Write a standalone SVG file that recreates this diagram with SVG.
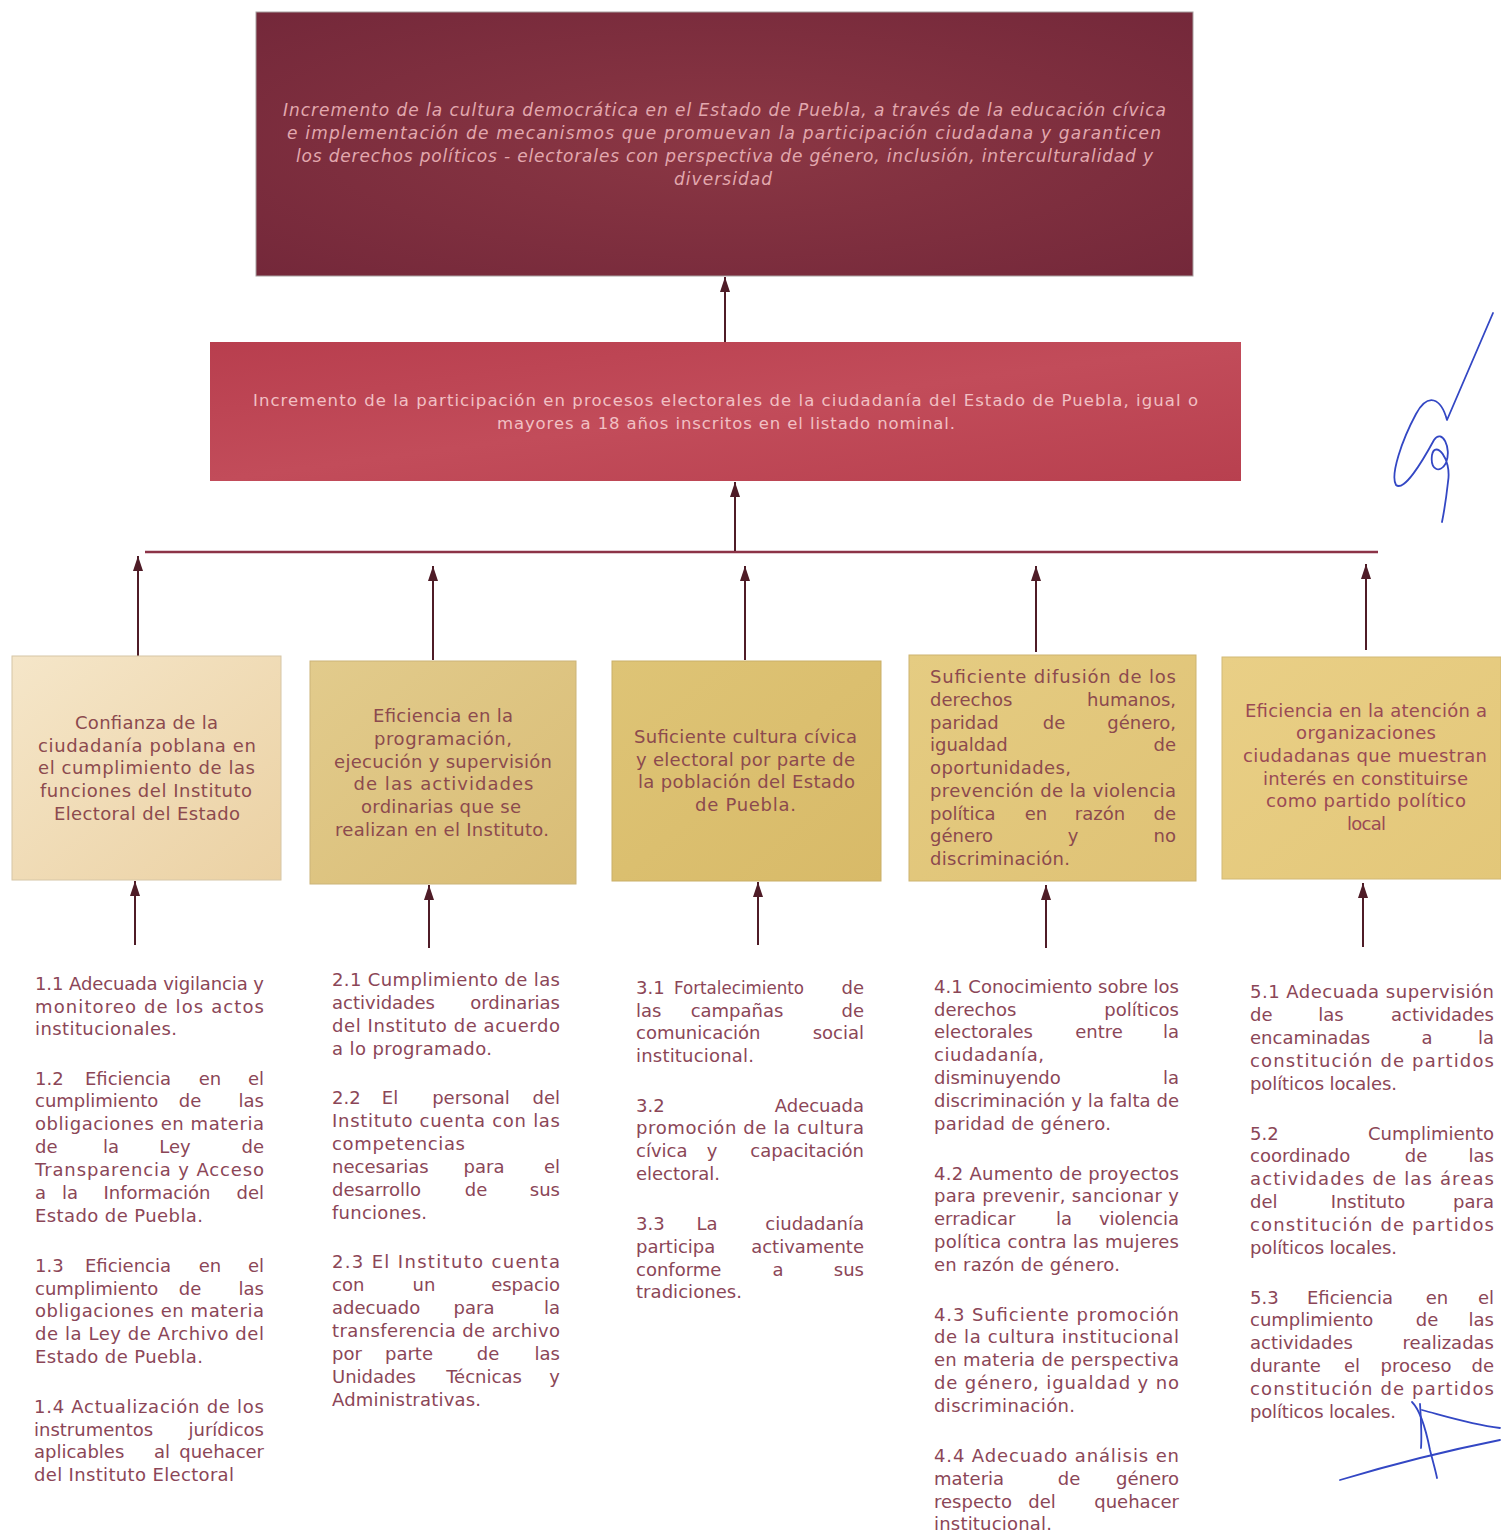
<svg xmlns="http://www.w3.org/2000/svg" width="1501" height="1534" viewBox="0 0 1501 1534">
<style>
.t{font-family:"DejaVu Sans","Open Sans",sans-serif;font-size:18px;fill:#8b4657}
.b{font-family:"DejaVu Sans","Open Sans",sans-serif;font-size:18px;fill:#8c4a4e}
.bc{text-anchor:middle}
.h1{font-family:"DejaVu Sans","Open Sans",sans-serif;font-size:17px;font-style:italic;fill:#e2a8ae;text-anchor:middle}
.h2{font-family:"DejaVu Sans","Open Sans",sans-serif;font-size:16.5px;fill:#f1c0c4;text-anchor:middle}
.m{text-anchor:middle}
.e{text-anchor:end}
.s{text-anchor:start}
.con{stroke:#4f1c27;stroke-width:2;fill:none;marker-end:url(#ah)}
.sig{stroke:#3347c4;stroke-width:1.8;fill:none;stroke-linecap:round;stroke-linejoin:round}
</style>
<defs>
<marker id="ah" markerUnits="userSpaceOnUse" markerWidth="15" markerHeight="10" viewBox="0 0 15 10" refX="15" refY="5" orient="auto">
<path d="M0,0 L15,5 L0,10 z" fill="#4f1c27"/>
</marker>
<radialGradient id="gTop" cx="0.5" cy="0.5" r="0.7">
<stop offset="0" stop-color="#8b3744"/><stop offset="1" stop-color="#74283a"/>
</radialGradient>
<linearGradient id="gMid" x1="0" y1="0" x2="1" y2="1">
<stop offset="0" stop-color="#b83e4e"/><stop offset="0.5" stop-color="#c24c5a"/><stop offset="1" stop-color="#b8404f"/>
</linearGradient>
<linearGradient id="g1" x1="0" y1="0" x2="1" y2="1"><stop offset="0" stop-color="#f5e6c9"/><stop offset="1" stop-color="#ebd1a3"/></linearGradient>
<linearGradient id="g2" x1="0" y1="0" x2="1" y2="1"><stop offset="0" stop-color="#e2cb8c"/><stop offset="1" stop-color="#d9bd76"/></linearGradient>
<linearGradient id="g3" x1="0" y1="0" x2="1" y2="1"><stop offset="0" stop-color="#dec476"/><stop offset="1" stop-color="#d8ba68"/></linearGradient>
<linearGradient id="g4" x1="0" y1="0" x2="1" y2="1"><stop offset="0" stop-color="#e5cc82"/><stop offset="1" stop-color="#dfc275"/></linearGradient>
<linearGradient id="g5" x1="0" y1="0" x2="1" y2="1"><stop offset="0" stop-color="#e9cf86"/><stop offset="1" stop-color="#e3c779"/></linearGradient>
</defs>
<rect width="1501" height="1534" fill="#ffffff"/>

<g id="fin">
<rect x="256" y="12" width="937" height="264" fill="url(#gTop)" stroke="#a8a0a0" stroke-width="1"/>
<text class="h1" x="724.5" y="116" textLength="883" lengthAdjust="spacing">Incremento de la cultura democrática en el Estado de Puebla, a través de la educación cívica</text>
<text class="h1" x="724" y="139" textLength="874" lengthAdjust="spacing">e implementación de mecanismos que promuevan la participación ciudadana y garanticen</text>
<text class="h1" x="724.5" y="162" textLength="857" lengthAdjust="spacing">los derechos políticos - electorales con perspectiva de género, inclusión, interculturalidad y</text>
<text class="h1" x="723" y="185" textLength="98" lengthAdjust="spacing">diversidad</text>
</g>

<g id="proposito">
<rect x="210" y="342" width="1031" height="139" fill="url(#gMid)"/>
<text class="h2" x="725.5" y="406" textLength="945" lengthAdjust="spacing">Incremento de la participación en procesos electorales de la ciudadanía del Estado de Puebla, igual o</text>
<text class="h2" x="726" y="429" textLength="458" lengthAdjust="spacing">mayores a 18 años inscritos en el listado nominal.</text>
</g>

<g id="connectors">
<line x1="145" y1="552" x2="1378" y2="552" stroke="#8c3347" stroke-width="2.5"/>
<line class="con" x1="725" y1="342" x2="725" y2="277"/>
<line class="con" x1="735" y1="551" x2="735" y2="482"/>
<line class="con" x1="138" y1="656" x2="138" y2="556"/>
<line class="con" x1="433" y1="660" x2="433" y2="566"/>
<line class="con" x1="745" y1="660" x2="745" y2="566"/>
<line class="con" x1="1036" y1="652" x2="1036" y2="566"/>
<line class="con" x1="1366" y1="650" x2="1366" y2="564"/>
<line class="con" x1="135" y1="945" x2="135" y2="881"/>
<line class="con" x1="429" y1="948" x2="429" y2="885"/>
<line class="con" x1="758" y1="945" x2="758" y2="882"/>
<line class="con" x1="1046" y1="948" x2="1046" y2="885"/>
<line class="con" x1="1363" y1="947" x2="1363" y2="883"/>
</g>

<g id="comp1">
<rect x="12" y="656" width="269" height="224" fill="url(#g1)" stroke="#d6c6a6" stroke-width="1"/>
<text class="b bc" x="146.5" y="729" textLength="143" lengthAdjust="spacing">Confianza de la</text>
<text class="b bc" x="147" y="752" textLength="218" lengthAdjust="spacing">ciudadanía poblana en</text>
<text class="b bc" x="146.5" y="774" textLength="217" lengthAdjust="spacing">el cumplimiento de las</text>
<text class="b bc" x="146" y="797" textLength="212" lengthAdjust="spacing">funciones del Instituto</text>
<text class="b bc" x="147" y="820" textLength="186" lengthAdjust="spacing">Electoral del Estado</text>
</g>

<g id="comp2">
<rect x="310" y="661" width="266" height="223" fill="url(#g2)" stroke="#cbb478" stroke-width="1"/>
<text class="b bc" x="443" y="722" textLength="140" lengthAdjust="spacing">Eficiencia en la</text>
<text class="b bc" x="443" y="745" textLength="138" lengthAdjust="spacing">programación,</text>
<text class="b bc" x="443" y="768" textLength="218" lengthAdjust="spacing">ejecución y supervisión</text>
<text class="b bc" x="443.5" y="790" textLength="180" lengthAdjust="spacing">de las actividades</text>
<text class="b bc" x="441" y="813" textLength="160" lengthAdjust="spacing">ordinarias que se</text>
<text class="b bc" x="442" y="836" textLength="214" lengthAdjust="spacing">realizan en el Instituto.</text>
</g>

<g id="comp3">
<rect x="612" y="661" width="269" height="220" fill="url(#g3)" stroke="#c9af68" stroke-width="1"/>
<text class="b bc" x="745.5" y="743" textLength="223" lengthAdjust="spacing">Suficiente cultura cívica</text>
<text class="b bc" x="745.5" y="766" textLength="219" lengthAdjust="spacing">y electoral por parte de</text>
<text class="b bc" x="746.5" y="788" textLength="217" lengthAdjust="spacing">la población del Estado</text>
<text class="b bc" x="745.5" y="811" textLength="101" lengthAdjust="spacing">de Puebla.</text>
</g>

<g id="comp4">
<rect x="909" y="655" width="287" height="226" fill="url(#g4)" stroke="#cdb470" stroke-width="1"/>
<text class="b" x="930" y="683" textLength="246" lengthAdjust="spacing">Suficiente difusión de los</text>
<text class="b" y="706"><tspan class="s" x="930">derechos</tspan><tspan class="e" x="1176">humanos,</tspan></text>
<text class="b" y="729"><tspan class="s" x="930">paridad</tspan><tspan class="m" x="1054">de</tspan><tspan class="e" x="1176">género,</tspan></text>
<text class="b" y="751"><tspan class="s" x="930">igualdad</tspan><tspan class="e" x="1176">de</tspan></text>
<text class="b" x="930" y="774" textLength="141" lengthAdjust="spacing">oportunidades,</text>
<text class="b" x="930" y="797" textLength="246" lengthAdjust="spacing">prevención de la violencia</text>
<text class="b" y="820"><tspan class="s" x="930">política</tspan><tspan class="m" x="1036">en</tspan><tspan class="m" x="1100">razón</tspan><tspan class="e" x="1176">de</tspan></text>
<text class="b" y="842"><tspan class="s" x="930">género</tspan><tspan class="m" x="1073">y</tspan><tspan class="e" x="1176">no</tspan></text>
<text class="b" x="930" y="865" textLength="140" lengthAdjust="spacing">discriminación.</text>
</g>

<g id="comp5">
<rect x="1222" y="657" width="279" height="222" fill="url(#g5)" stroke="#d2b977" stroke-width="1"/>
<text class="b bc" x="1366" y="717" textLength="242" lengthAdjust="spacing" style="fill:#9a4a55">Eficiencia en la atención a</text>
<text class="b bc" x="1366" y="739" textLength="140" lengthAdjust="spacing" style="fill:#9a4a55">organizaciones</text>
<text class="b bc" x="1365" y="762" textLength="244" lengthAdjust="spacing" style="fill:#9a4a55">ciudadanas que muestran</text>
<text class="b bc" x="1365.5" y="785" textLength="205" lengthAdjust="spacing" style="fill:#9a4a55">interés en constituirse</text>
<text class="b bc" x="1366" y="807" textLength="200" lengthAdjust="spacing" style="fill:#9a4a55">como partido político</text>
<text class="b bc" x="1366.5" y="830" textLength="39" lengthAdjust="spacing" style="fill:#9a4a55">local</text>
</g>

<g id="act1">
<text class="t" x="35" y="990" textLength="229" lengthAdjust="spacing">1.1 Adecuada vigilancia y</text>
<text class="t" x="35" y="1013" textLength="229" lengthAdjust="spacing">monitoreo de los actos</text>
<text class="t" x="35" y="1035" textLength="142" lengthAdjust="spacing">institucionales.</text>
<text class="t" y="1085"><tspan class="s" x="35">1.2</tspan><tspan class="m" x="128">Eficiencia</tspan><tspan class="m" x="210">en</tspan><tspan class="e" x="264">el</tspan></text>
<text class="t" y="1107"><tspan class="s" x="35">cumplimiento</tspan><tspan class="m" x="190">de</tspan><tspan class="e" x="264">las</tspan></text>
<text class="t" x="35" y="1130" textLength="229" lengthAdjust="spacing">obligaciones en materia</text>
<text class="t" y="1153"><tspan class="s" x="35">de</tspan><tspan class="m" x="111">la</tspan><tspan class="m" x="175">Ley</tspan><tspan class="e" x="264">de</tspan></text>
<text class="t" x="35" y="1176" textLength="229" lengthAdjust="spacing">Transparencia y Acceso</text>
<text class="t" y="1199"><tspan class="s" x="35">a</tspan><tspan class="m" x="70">la</tspan><tspan class="m" x="157">Información</tspan><tspan class="e" x="264">del</tspan></text>
<text class="t" x="35" y="1222" textLength="168" lengthAdjust="spacing">Estado de Puebla.</text>
<text class="t" y="1272"><tspan class="s" x="35">1.3</tspan><tspan class="m" x="128">Eficiencia</tspan><tspan class="m" x="210">en</tspan><tspan class="e" x="264">el</tspan></text>
<text class="t" y="1295"><tspan class="s" x="35">cumplimiento</tspan><tspan class="m" x="190">de</tspan><tspan class="e" x="264">las</tspan></text>
<text class="t" x="35" y="1317" textLength="229" lengthAdjust="spacing">obligaciones en materia</text>
<text class="t" x="35" y="1340" textLength="229" lengthAdjust="spacing">de la Ley de Archivo del</text>
<text class="t" x="35" y="1363" textLength="168" lengthAdjust="spacing">Estado de Puebla.</text>
<text class="t" x="34" y="1413" textLength="230" lengthAdjust="spacing">1.4 Actualización de los</text>
<text class="t" y="1436"><tspan class="s" x="34">instrumentos</tspan><tspan class="e" x="264">jurídicos</tspan></text>
<text class="t" y="1458"><tspan class="s" x="34">aplicables</tspan><tspan class="m" x="162">al</tspan><tspan class="e" x="264">quehacer</tspan></text>
<text class="t" x="34" y="1481" textLength="200" lengthAdjust="spacing">del Instituto Electoral</text>
</g>

<g id="act2">
<text class="t" x="332" y="986" textLength="228" lengthAdjust="spacing">2.1 Cumplimiento de las</text>
<text class="t" y="1009"><tspan class="s" x="332">actividades</tspan><tspan class="e" x="560">ordinarias</tspan></text>
<text class="t" x="332" y="1032" textLength="228" lengthAdjust="spacing">del Instituto de acuerdo</text>
<text class="t" x="332" y="1055" textLength="160" lengthAdjust="spacing">a lo programado.</text>
<text class="t" y="1104"><tspan class="s" x="332">2.2</tspan><tspan class="m" x="390">El</tspan><tspan class="m" x="471">personal</tspan><tspan class="e" x="560">del</tspan></text>
<text class="t" x="332" y="1127" textLength="228" lengthAdjust="spacing">Instituto cuenta con las</text>
<text class="t" x="332" y="1150" textLength="133" lengthAdjust="spacing">competencias</text>
<text class="t" y="1173"><tspan class="s" x="332">necesarias</tspan><tspan class="m" x="484">para</tspan><tspan class="e" x="560">el</tspan></text>
<text class="t" y="1196"><tspan class="s" x="332">desarrollo</tspan><tspan class="m" x="476">de</tspan><tspan class="e" x="560">sus</tspan></text>
<text class="t" x="332" y="1219" textLength="95" lengthAdjust="spacing">funciones.</text>
<text class="t" x="332" y="1268" textLength="228" lengthAdjust="spacing">2.3 El Instituto cuenta</text>
<text class="t" y="1291"><tspan class="s" x="332">con</tspan><tspan class="m" x="424">un</tspan><tspan class="e" x="560">espacio</tspan></text>
<text class="t" y="1314"><tspan class="s" x="332">adecuado</tspan><tspan class="m" x="474">para</tspan><tspan class="e" x="560">la</tspan></text>
<text class="t" x="332" y="1337" textLength="228" lengthAdjust="spacing">transferencia de archivo</text>
<text class="t" y="1360"><tspan class="s" x="332">por</tspan><tspan class="m" x="409">parte</tspan><tspan class="m" x="488">de</tspan><tspan class="e" x="560">las</tspan></text>
<text class="t" y="1383"><tspan class="s" x="332">Unidades</tspan><tspan class="m" x="484">Técnicas</tspan><tspan class="e" x="560">y</tspan></text>
<text class="t" x="332" y="1406" textLength="149" lengthAdjust="spacing">Administrativas.</text>
</g>

<g id="act3">
<text class="t" y="994"><tspan class="s" x="636">3.1</tspan><tspan class="m" x="739" textLength="130" lengthAdjust="spacingAndGlyphs">Fortalecimiento</tspan><tspan class="e" x="864">de</tspan></text>
<text class="t" y="1017"><tspan class="s" x="636">las</tspan><tspan class="m" x="737">campañas</tspan><tspan class="e" x="864">de</tspan></text>
<text class="t" y="1039"><tspan class="s" x="636">comunicación</tspan><tspan class="e" x="864">social</tspan></text>
<text class="t" x="636" y="1062" textLength="118" lengthAdjust="spacing">institucional.</text>
<text class="t" y="1112"><tspan class="s" x="636">3.2</tspan><tspan class="e" x="864">Adecuada</tspan></text>
<text class="t" x="636" y="1134" textLength="228" lengthAdjust="spacing">promoción de la cultura</text>
<text class="t" y="1157"><tspan class="s" x="636">cívica</tspan><tspan class="m" x="712">y</tspan><tspan class="e" x="864">capacitación</tspan></text>
<text class="t" x="636" y="1180" textLength="84" lengthAdjust="spacing">electoral.</text>
<text class="t" y="1230"><tspan class="s" x="636">3.3</tspan><tspan class="m" x="707">La</tspan><tspan class="e" x="864">ciudadanía</tspan></text>
<text class="t" y="1253"><tspan class="s" x="636">participa</tspan><tspan class="e" x="864">activamente</tspan></text>
<text class="t" y="1276"><tspan class="s" x="636">conforme</tspan><tspan class="m" x="778">a</tspan><tspan class="e" x="864">sus</tspan></text>
<text class="t" x="636" y="1298" textLength="106" lengthAdjust="spacing">tradiciones.</text>
</g>

<g id="act4">
<text class="t" x="934" y="993" textLength="245" lengthAdjust="spacing">4.1 Conocimiento sobre los</text>
<text class="t" y="1016"><tspan class="s" x="934">derechos</tspan><tspan class="e" x="1179">políticos</tspan></text>
<text class="t" y="1038"><tspan class="s" x="934">electorales</tspan><tspan class="m" x="1099">entre</tspan><tspan class="e" x="1179">la</tspan></text>
<text class="t" x="934" y="1061" textLength="110" lengthAdjust="spacing">ciudadanía,</text>
<text class="t" y="1084"><tspan class="s" x="934">disminuyendo</tspan><tspan class="e" x="1179">la</tspan></text>
<text class="t" x="934" y="1107" textLength="245" lengthAdjust="spacing">discriminación y la falta de</text>
<text class="t" x="934" y="1130" textLength="177" lengthAdjust="spacing">paridad de género.</text>
<text class="t" x="934" y="1180" textLength="245" lengthAdjust="spacing">4.2 Aumento de proyectos</text>
<text class="t" x="934" y="1202" textLength="245" lengthAdjust="spacing">para prevenir, sancionar y</text>
<text class="t" y="1225"><tspan class="s" x="934">erradicar</tspan><tspan class="m" x="1064">la</tspan><tspan class="e" x="1179">violencia</tspan></text>
<text class="t" x="934" y="1248" textLength="245" lengthAdjust="spacing">política contra las mujeres</text>
<text class="t" x="934" y="1271" textLength="186" lengthAdjust="spacing">en razón de género.</text>
<text class="t" x="934" y="1321" textLength="245" lengthAdjust="spacing">4.3 Suficiente promoción</text>
<text class="t" x="934" y="1343" textLength="245" lengthAdjust="spacing">de la cultura institucional</text>
<text class="t" x="934" y="1366" textLength="245" lengthAdjust="spacing">en materia de perspectiva</text>
<text class="t" x="934" y="1389" textLength="245" lengthAdjust="spacing">de género, igualdad y no</text>
<text class="t" x="934" y="1412" textLength="141" lengthAdjust="spacing">discriminación.</text>
<text class="t" x="934" y="1462" textLength="245" lengthAdjust="spacing">4.4 Adecuado análisis en</text>
<text class="t" y="1485"><tspan class="s" x="934">materia</tspan><tspan class="m" x="1069">de</tspan><tspan class="e" x="1179">género</tspan></text>
<text class="t" y="1508"><tspan class="s" x="934">respecto</tspan><tspan class="m" x="1042">del</tspan><tspan class="e" x="1179">quehacer</tspan></text>
<text class="t" x="934" y="1530" textLength="118" lengthAdjust="spacing">institucional.</text>
</g>

<g id="act5">
<text class="t" x="1250" y="998" textLength="244" lengthAdjust="spacing">5.1 Adecuada supervisión</text>
<text class="t" y="1021"><tspan class="s" x="1250">de</tspan><tspan class="m" x="1331">las</tspan><tspan class="e" x="1494">actividades</tspan></text>
<text class="t" y="1044"><tspan class="s" x="1250">encaminadas</tspan><tspan class="m" x="1427">a</tspan><tspan class="e" x="1494">la</tspan></text>
<text class="t" x="1250" y="1067" textLength="244" lengthAdjust="spacing">constitución de partidos</text>
<text class="t" x="1250" y="1090" textLength="147" lengthAdjust="spacing">políticos locales.</text>
<text class="t" y="1140"><tspan class="s" x="1250">5.2</tspan><tspan class="e" x="1494">Cumplimiento</tspan></text>
<text class="t" y="1162"><tspan class="s" x="1250">coordinado</tspan><tspan class="m" x="1416">de</tspan><tspan class="e" x="1494">las</tspan></text>
<text class="t" x="1250" y="1185" textLength="244" lengthAdjust="spacing">actividades de las áreas</text>
<text class="t" y="1208"><tspan class="s" x="1250">del</tspan><tspan class="m" x="1368">Instituto</tspan><tspan class="e" x="1494">para</tspan></text>
<text class="t" x="1250" y="1231" textLength="244" lengthAdjust="spacing">constitución de partidos</text>
<text class="t" x="1250" y="1254" textLength="147" lengthAdjust="spacing">políticos locales.</text>
<text class="t" y="1304"><tspan class="s" x="1250">5.3</tspan><tspan class="m" x="1350">Eficiencia</tspan><tspan class="m" x="1437">en</tspan><tspan class="e" x="1494">el</tspan></text>
<text class="t" y="1326"><tspan class="s" x="1250">cumplimiento</tspan><tspan class="m" x="1427">de</tspan><tspan class="e" x="1494">las</tspan></text>
<text class="t" y="1349"><tspan class="s" x="1250">actividades</tspan><tspan class="e" x="1494">realizadas</tspan></text>
<text class="t" y="1372"><tspan class="s" x="1250">durante</tspan><tspan class="m" x="1352">el</tspan><tspan class="m" x="1416">proceso</tspan><tspan class="e" x="1494">de</tspan></text>
<text class="t" x="1250" y="1395" textLength="244" lengthAdjust="spacing">constitución de partidos</text>
<text class="t" x="1250" y="1418" textLength="146" lengthAdjust="spacing">políticos locales.</text>
</g>

<g id="signatures">
<path class="sig" d="M1493,313 L1447,420 C1441,398 1428,392 1416,414 C1402,440 1390,475 1396,485 C1404,492 1422,462 1434,440 C1442,428 1452,448 1446,463 C1440,474 1430,470 1432,455 C1435,440 1452,458 1448,482 C1446,500 1444,512 1442,522"/>
<path class="sig" d="M1412,1402 C1420,1410 1426,1430 1430,1450 C1433,1462 1436,1472 1437,1478"/>
<path class="sig" d="M1420,1404 C1421,1420 1422,1435 1421,1448"/>
<path class="sig" d="M1422,1410 C1445,1416 1470,1424 1500,1428"/>
<path class="sig" d="M1340,1480 C1380,1468 1440,1452 1500,1440"/>
</g>
</svg>
